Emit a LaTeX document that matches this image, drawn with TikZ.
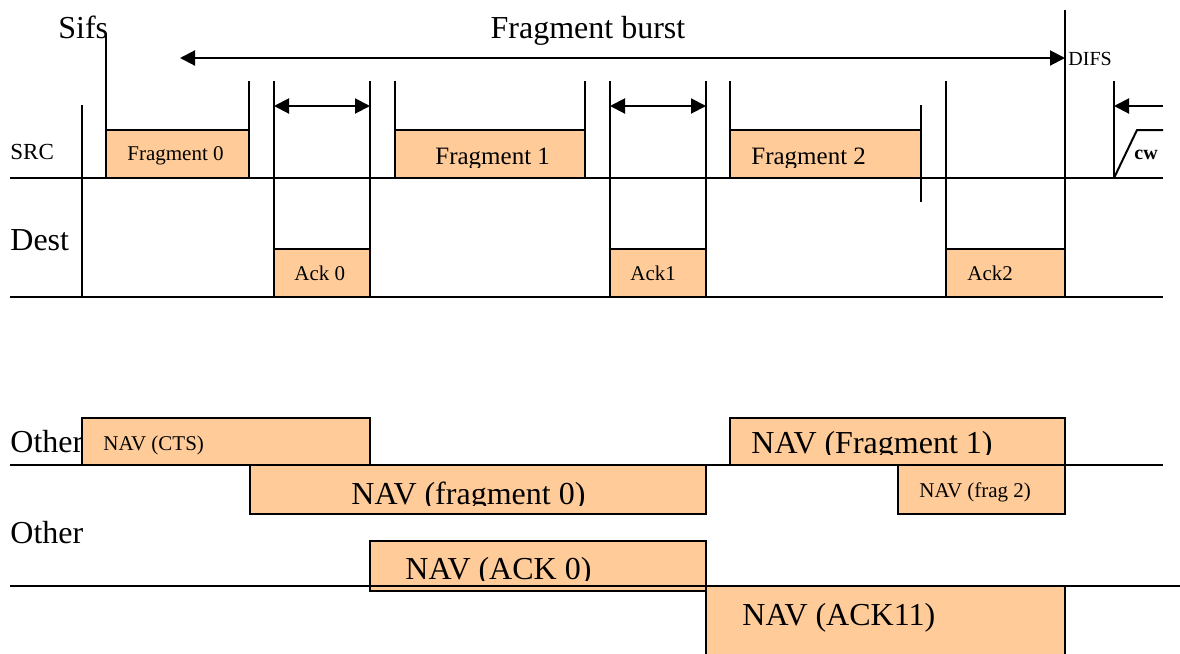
\documentclass[tikz,border=0pt]{standalone}
\usepackage{fontspec}
\setmainfont{Liberation Serif}
\usepackage{xcolor}
\usepackage{tikz}
\usetikzlibrary{arrows.meta,fit}

\definecolor{navfill}{RGB}{255,204,153}

\tikzset{
  slot/.style={draw, line width=1pt, fill=navfill, inner sep=0pt},
  vline/.style={line width=1pt},
  span/.style={line width=1pt, {Triangle[length=7.5pt,width=7.5pt]}-{Triangle[length=7.5pt,width=7.5pt]}},
  txtbig/.style={font=\fontsize{16}{19}\selectfont, inner sep=0pt, anchor=base west},
  txtmid/.style={font=\fontsize{12.5}{15}\selectfont, inner sep=0pt, anchor=base west},
  txtsmall/.style={font=\fontsize{10.5}{12.5}\selectfont, inner sep=0pt, anchor=base west},
}

\begin{document}
\begin{tikzpicture}[x=0.5pt, y=-0.5pt]
  \clip (0,0) rectangle (1180,654);

  % SRC / Dest slots
  \node[slot, fit={(106,130) (249,178)}] (frag0) {};
  \node[slot, fit={(395,130) (585,178)}] (frag1) {};
  \node[slot, fit={(730,130) (921,178)}] (frag2) {};
  \node[slot, fit={(274,249) (370,297)}] (ack0) {};
  \node[slot, fit={(610,249) (706,297)}] (ack1) {};
  \node[slot, fit={(946,249) (1065,297)}] (ack2) {};

  \draw[vline] (10,178) -- (1163,178);
  \draw[vline] (10,297) -- (1163,297);

  \foreach \x/\y in {249/178, 274/297, 370/297, 395/178, 585/178,
                     610/297, 706/297, 730/178, 946/297, 1114/178}
    \draw[vline] (\x,81) -- (\x,\y);
  \draw[vline] (82,105) -- (82,297);
  \draw[vline] (106,33) -- (106,178);
  \draw[vline] (921,105) -- (921,202);
  \draw[vline] (1065,10) -- (1065,297);

  \draw[span] (180,58) -- (1065,58);
  \draw[span] (274,106) -- (370,106);
  \draw[span] (610,106) -- (706,106);
  \draw[vline, -{Triangle[length=7.5pt,width=7.5pt]}] (1163,106) -- (1114,106);
  \draw[vline] (1114,178) -- (1137,130) -- (1163,130);

  \node[txtbig] (sifs) at (58,38) {Sifs};
  \node[txtbig, anchor=base] (burst) at (588,38) {Fragment burst};
  \node[txtsmall, font=\fontsize{10}{12}\selectfont] (difs) at (1068,65) {DIFS};
  \node[txtsmall, font=\fontsize{10}{12}\selectfont\bfseries] (cw) at (1134,159) {cw};
  \node[txtsmall, font=\fontsize{11.5}{14}\selectfont] (src) at (10,159) {SRC};
  \node[txtbig] (dest) at (10,250) {Dest};

  \node[txtsmall] (frag0txt) at (127,160) {Fragment 0};
  \begin{scope}
    \clip (395,130) rectangle (585,167);
    \node[txtmid] (frag1txt) at (435,164) {Fragment 1};
  \end{scope}
  \begin{scope}
    \clip (730,130) rectangle (921,167);
    \node[txtmid] (frag2txt) at (751,164) {Fragment 2};
  \end{scope}
  \node[txtsmall] (ack0txt) at (294,280) {Ack 0};
  \node[txtsmall] (ack1txt) at (630,280) {Ack1};
  \node[txtsmall] (ack2txt) at (967,280) {Ack2};

  % NAV
  \node[slot, fit={(82,418) (370,465)}] (navcts) {};
  \node[slot, fit={(250,465) (706,514)}] (navfrag0) {};
  \node[slot, fit={(730,418) (1065,465)}] (navfrag1) {};
  \node[slot, fit={(898,465) (1065,514)}] (navfrag2) {};
  \node[slot, fit={(370,541) (706,591)}] (navack0) {};
  \node[slot, fit={(706,586) (1065,670)}] (navack1) {};

  \draw[vline] (10,465) -- (1163,465);
  \draw[vline] (10,586) -- (1180,586);

  \node[txtbig] (other1) at (10,452) {Other};
  \node[txtbig] (other2) at (10,543) {Other};

  \node[txtsmall] (navctstxt) at (103,450) {NAV (CTS)};
  \begin{scope}
    \clip (250,465) rectangle (706,505);
    \node[txtbig] (navfrag0txt) at (351,504) {NAV (fragment 0)};
  \end{scope}
  \begin{scope}
    \clip (730,418) rectangle (1065,454);
    \node[txtbig] (navfrag1txt) at (751,453) {NAV (Fragment 1)};
  \end{scope}
  \node[txtsmall] (navfrag2txt) at (919,497) {NAV (frag 2)};
  \begin{scope}
    \clip (370,541) rectangle (706,580);
    \node[txtbig] (navack0txt) at (405,579) {NAV (ACK 0)};
  \end{scope}
  \node[txtbig] (navack1txt) at (742,625) {NAV (ACK11)};
\end{tikzpicture}
\end{document}
